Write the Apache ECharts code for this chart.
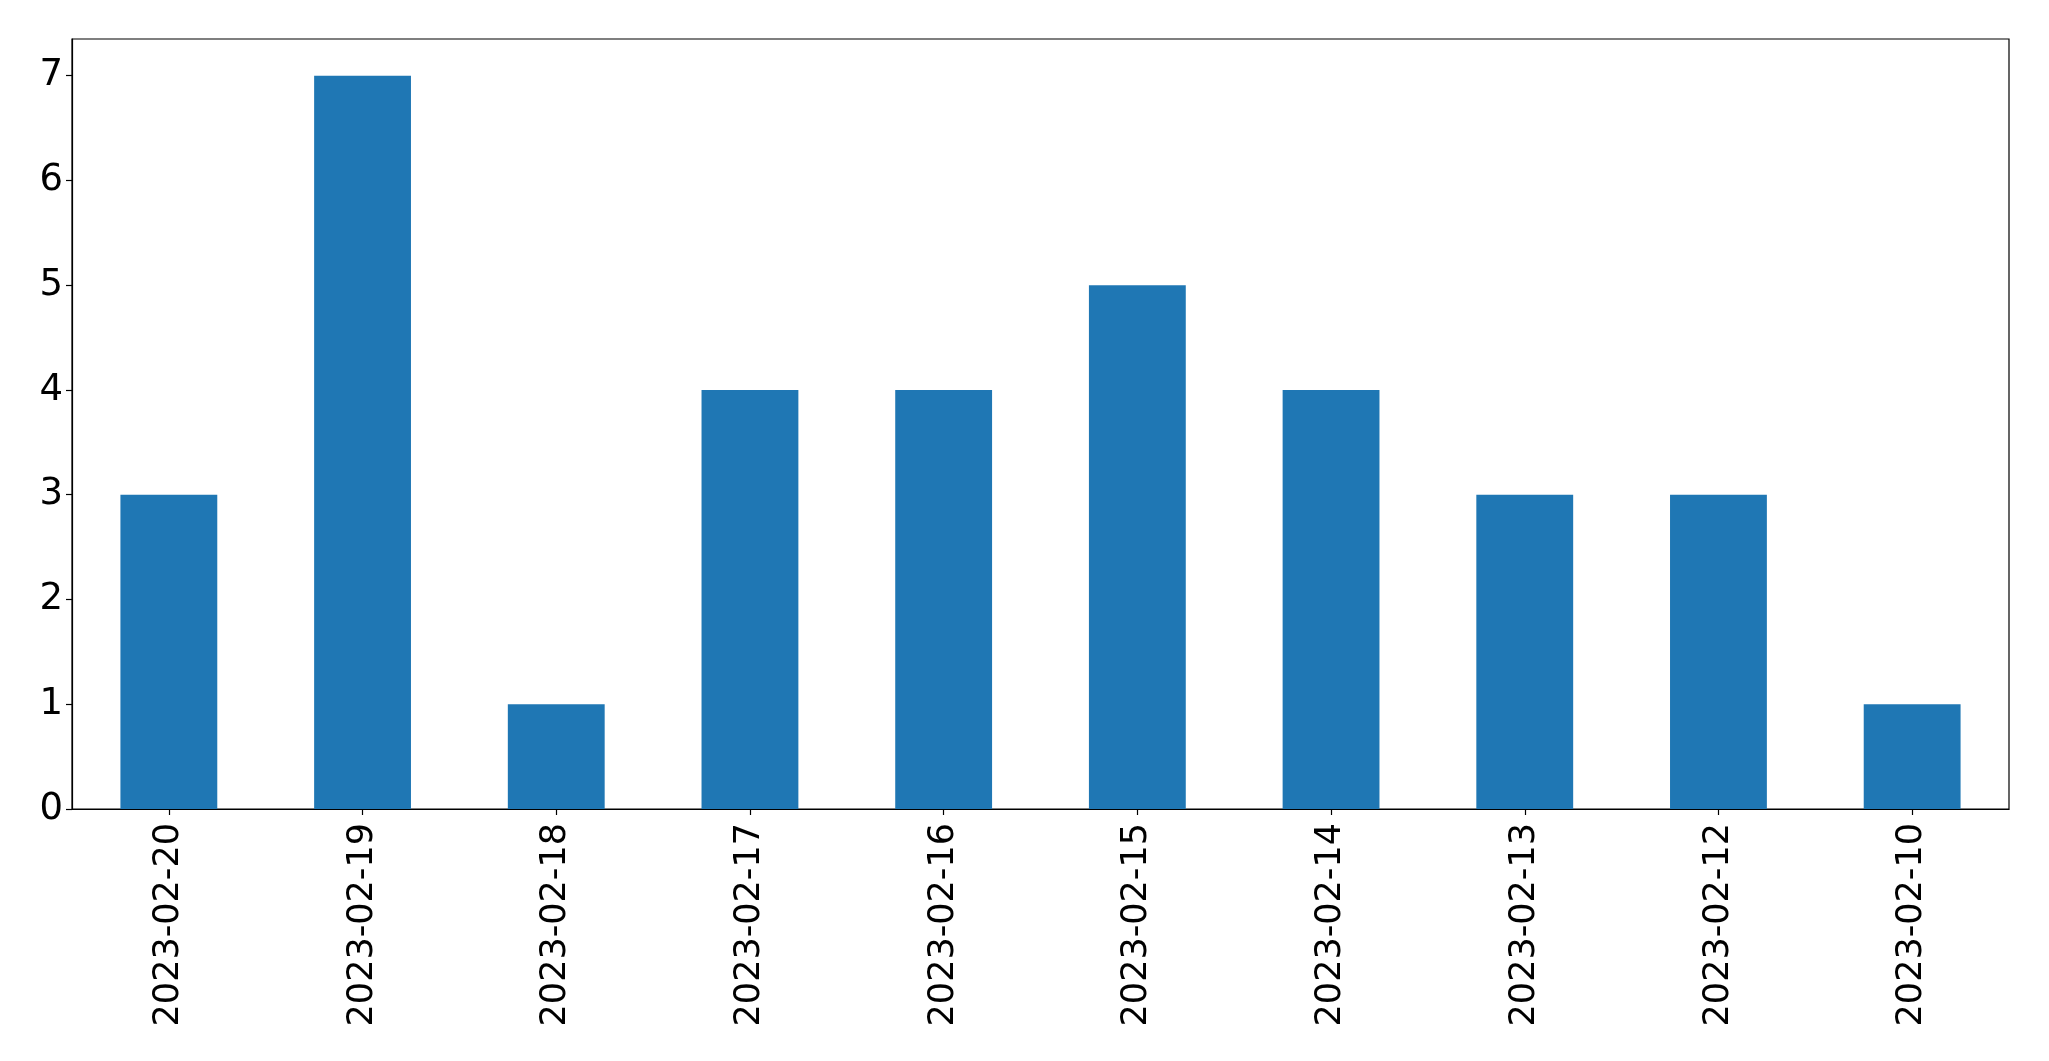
<!DOCTYPE html>
<html>
<head>
<meta charset="utf-8">
<script src="https://cdn.jsdelivr.net/npm/echarts@6/dist/echarts.min.js"></script>
<style>html,body{margin:0;padding:0;background:#fff}#c{width:2049px;height:1061px}</style>
</head>
<body>
<div id="c"></div>
<script>
const categories = ["2023-02-20","2023-02-19","2023-02-18","2023-02-17","2023-02-16","2023-02-15","2023-02-14","2023-02-13","2023-02-12","2023-02-10"];
const counts = [3,7,1,4,4,5,4,3,3,1];

const chart = echarts.init(document.getElementById('c'));
const font = 'DejaVu Sans';
chart.setOption({
  animation: false,
  backgroundColor: '#fff',
  grid: {left: 72, top: 39, right: 40, bottom: 252, show: true, borderColor: '#000', borderWidth: 1.2, backgroundColor: 'transparent'},
  xAxis: {
    type: 'category',
    data: categories,
    boundaryGap: true,
    axisLine: {show: true, lineStyle: {color: '#000', width: 1.2}},
    axisTick: {show: true, alignWithLabel: true, length: 6, lineStyle: {color: '#000', width: 1.2}},
    axisLabel: {rotate: 90, color: '#000', fontFamily: font, fontSize: 35, margin: 14, interval: 0},
    splitLine: {show: false}
  },
  yAxis: {
    type: 'value',
    min: 0, max: 7.35, interval: 1,
    axisLine: {show: true, lineStyle: {color: '#000', width: 1.2}},
    axisTick: {show: true, length: 6, lineStyle: {color: '#000', width: 1.2}},
    axisLabel: {color: '#000', fontFamily: font, fontSize: 37, margin: 9, showMaxLabel: false,
      formatter: v => Number.isInteger(v) ? String(v) : ''},
    splitLine: {show: false}
  },
  series: [{
    type: 'bar',
    data: counts,
    barWidth: '50%',
    itemStyle: {color: '#1f77b4'}
  }]
});
</script>
</body>
</html>
